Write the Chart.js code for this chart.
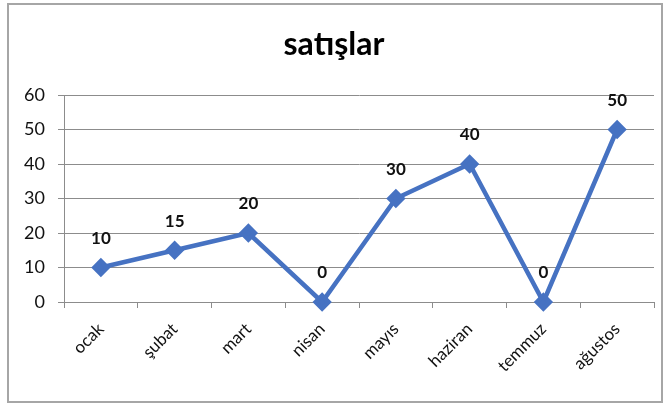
<!DOCTYPE html>
<html><head><meta charset="utf-8">
<script src="https://cdn.jsdelivr.net/npm/chart.js@4"></script>
<style>
html,body{margin:0;padding:0;background:#fff;}
#wrap{position:relative;width:668px;height:405px;}
#frame{position:absolute;left:7px;top:3px;width:652px;height:396px;border:2px solid #a6a6a6;box-sizing:content-box;pointer-events:none;}
canvas{position:absolute;left:0;top:0;}
</style></head>
<body>
<div id="wrap"><canvas id="c" width="668" height="405"></canvas><div id="frame"></div></div>
<script>
const categories = ["ocak","şubat","mart","nisan","mayıs","haziran","temmuz","ağustos"];
const sales = [10,15,20,0,30,40,0,50];
const yTicks = [0,10,20,30,40,50,60];
const titleText = "satışlar";

const FONT = "Lato, 'Open Sans', sans-serif";
const lineColor = "#4672c2";

const dataLabels = {
  id: 'dataLabels',
  afterDatasetsDraw(chart) {
    const ctx = chart.ctx;
    const meta = chart.getDatasetMeta(0);
    ctx.save();
    ctx.font = "bold 17px " + FONT;
    ctx.fillStyle = "#111";
    ctx.textAlign = "center";
    ctx.textBaseline = "middle";
    meta.data.forEach((pt, i) => {
      ctx.fillText(String(sales[i]), pt.x, pt.y - 29);
    });
    ctx.restore();
  }
};

new Chart(document.getElementById('c'), {
  type: 'line',
  data: {
    labels: categories,
    datasets: [{
      data: sales,
      borderColor: lineColor,
      backgroundColor: lineColor,
      borderWidth: 4.5,
      pointStyle: 'rectRot',
      pointRadius: 6.5,
      pointHoverRadius: 6.5,
      tension: 0,
      clip: false
    }]
  },
  options: {
    responsive: false,
    animation: false,
    events: [],
    layout: { padding: { left: 14, right: 14, top: 0, bottom: 0 } },
    plugins: {
      legend: { display: false },
      tooltip: { enabled: false },
      title: {
        display: true,
        text: titleText,
        color: "#000",
        font: { family: FONT, size: 32, weight: 'bold' },
        padding: { top: 25, bottom: 31.6 }
      }
    },
    scales: {
      x: {
        offset: true,
        grid: { display: true, drawOnChartArea: false, drawTicks: true, tickLength: 6, offset: true, color: "#8c8c8c" },
        border: { display: true, color: "#8c8c8c", width: 1 },
        ticks: { color: "#111", font: { family: FONT, size: 17 }, minRotation: 45, maxRotation: 45, padding: 11, autoSkip: false },
        afterFit(s) { s.height = 103; }
      },
      y: {
        min: 0, max: 60,
        afterBuildTicks(s) { s.ticks = yTicks.map(v => ({ value: v })); },
        grid: { color: "#8c8c8c", tickLength: 6, drawTicks: true },
        border: { display: true, color: "#8c8c8c", width: 1 },
        ticks: { color: "#111", font: { family: FONT, size: 18 }, padding: 13 },
        afterFit(s) { s.width = 50; }
      }
    }
  },
  plugins: [dataLabels]
});
</script>
</body></html>
